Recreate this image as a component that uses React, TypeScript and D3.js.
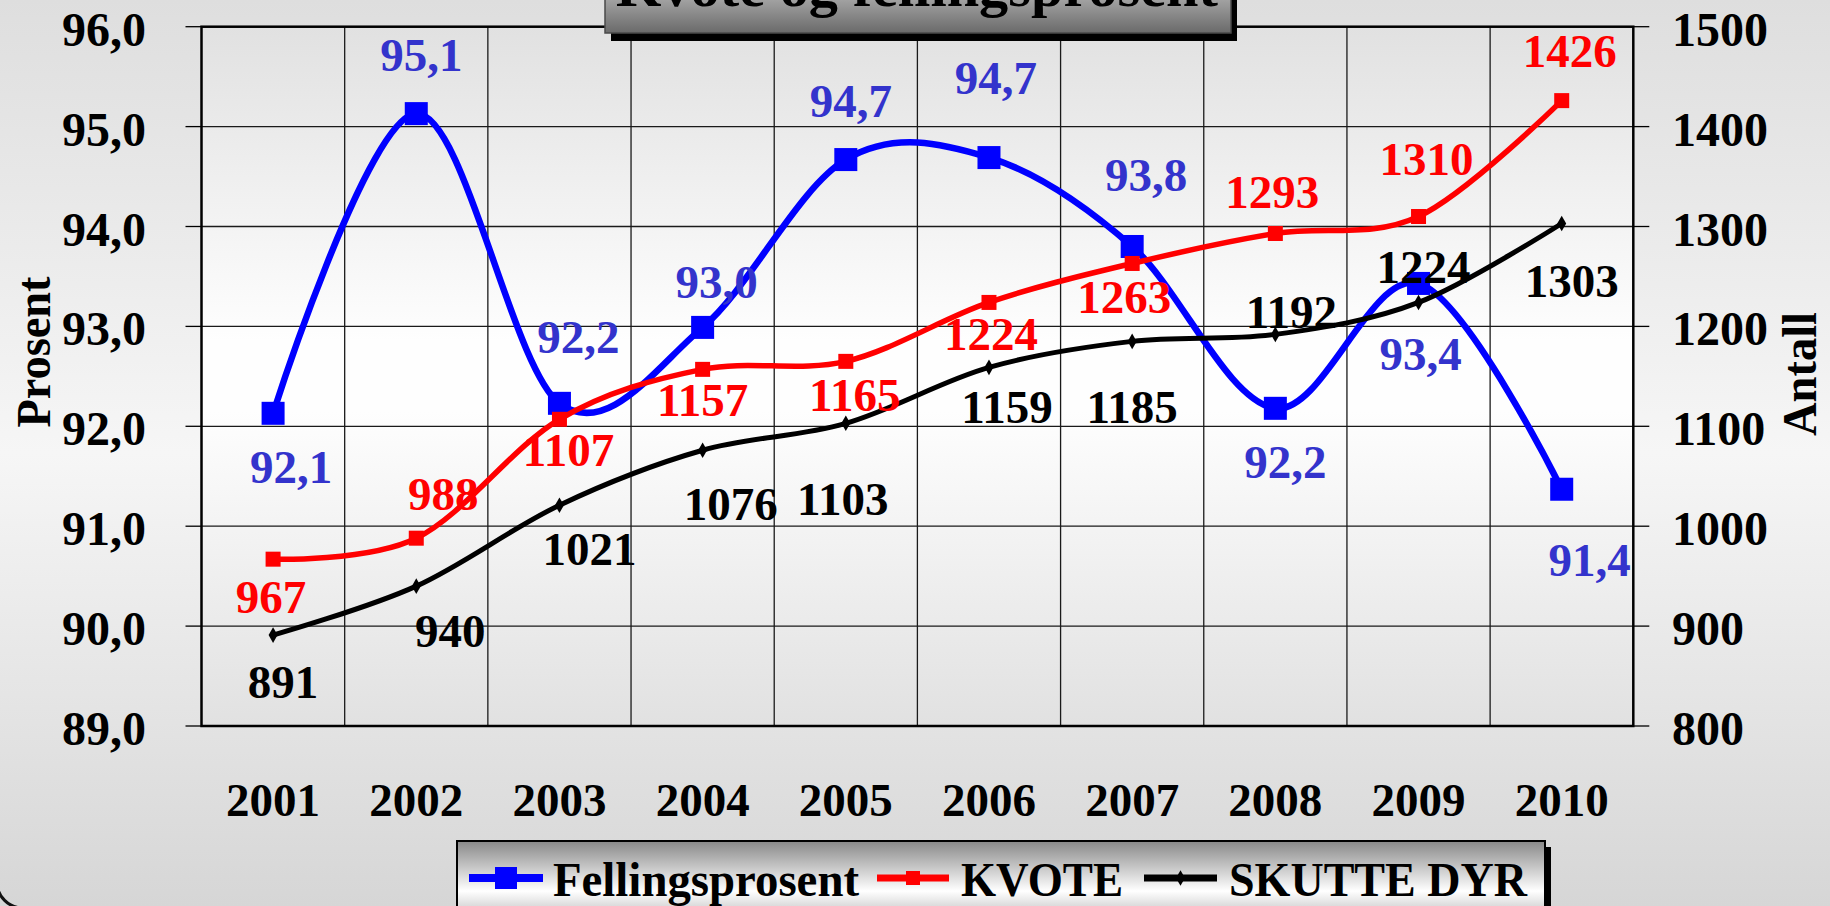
import React from "react";
import * as d3 from "d3";

// values
const years = ["2001", "2002", "2003", "2004", "2005", "2006", "2007", "2008", "2009", "2010"];
const fellingsprosent = [92.13, 95.13, 92.23, 92.99, 94.67, 94.69, 93.8, 92.18, 93.43, 91.37];
const kvote = [967, 988, 1107, 1157, 1165, 1224, 1263, 1293, 1310, 1426];
const skutteDyr = [891, 940, 1021, 1076, 1103, 1159, 1185, 1192, 1224, 1303];
const leftTicks = [89, 90, 91, 92, 93, 94, 95, 96];
const rightTicks = [800, 900, 1000, 1100, 1200, 1300, 1400, 1500];

// label nudges (dx, baseline dy) – the original labels were dragged by hand
const blueNudge = [[18, 70], [5, -43], [19, -50], [14, -29], [5, -43], [7, -64], [14, -55], [10, 70], [2, 87], [28, 87]];
const redNudge = [[-2, 54], [27, -28], [9, 47], [0, 47], [9, 50], [2, 48], [-8, 50], [-3, -25], [8, -42], [8, -34]];
const blackNudge = [[10, 63], [34, 61], [30, 60], [28, 70], [-3, 92], [18, 56], [0, 82], [16, -6], [5, -19], [10, 73]];

const W = 1830;
const H = 906;
const plot = { left: 201.5, right: 1633.3, top: 26.7, bottom: 726 };
const FONT = "'Liberation Serif', 'Times New Roman', serif";

const fmtPct = (v: number) => d3.format(".1f")(v).replace(".", ",");

export default function App() {
  const x = d3.scaleBand().domain(years).range([plot.left, plot.right]);
  const cx = (yr: string) => (x(yr) as number) + x.bandwidth() / 2;
  const yL = d3.scaleLinear().domain([89, 96]).range([plot.bottom, plot.top]);
  const yR = d3.scaleLinear().domain([800, 1500]).range([plot.bottom, plot.top]);

  const line = d3
    .line<[number, number]>()
    .x((d) => d[0])
    .y((d) => d[1])
    .curve(d3.curveCardinal.tension(0));

  const bluePts = years.map((yr, i) => [cx(yr), yL(fellingsprosent[i])] as [number, number]);
  const redPts = years.map((yr, i) => [cx(yr), yR(kvote[i])] as [number, number]);
  const blackPts = years.map((yr, i) => [cx(yr), yR(skutteDyr[i])] as [number, number]);

  const diamond = d3.symbol().type(d3.symbolDiamond).size(70)() as string;

  const gridX = years.slice(1).map((yr) => x(yr) as number);

  return (
    <div style={{ position: "absolute", left: 0, top: 0 }}>
      <svg width={W} height={H} style={{ display: "block" }} fontFamily={FONT}>
        <defs>
          <linearGradient id="bg" x1="0" y1="0" x2="0" y2="1">
            <stop offset="0" stopColor="#dedede" />
            <stop offset="0.5" stopColor="#f6f6f6" />
            <stop offset="1" stopColor="#d6d6d6" />
          </linearGradient>
          <linearGradient id="plotbg" x1="0" y1="0" x2="0" y2="1">
            <stop offset="0" stopColor="#e1e1e1" />
            <stop offset="0.45" stopColor="#fefefe" />
            <stop offset="0.55" stopColor="#fefefe" />
            <stop offset="1" stopColor="#e1e1e1" />
          </linearGradient>
          <linearGradient id="titlebg" x1="0" y1="0" x2="0" y2="1">
            <stop offset="0" stopColor="#ececec" />
            <stop offset="1" stopColor="#6a6a6a" />
          </linearGradient>
          <linearGradient id="legendbg" x1="0" y1="0" x2="0" y2="1">
            <stop offset="0" stopColor="#888888" />
            <stop offset="0.5" stopColor="#ffffff" />
            <stop offset="1" stopColor="#888888" />
          </linearGradient>
        </defs>

        <rect x={0} y={0} width={W} height={H} fill="url(#bg)" />
        <rect x={-3} y={-100} width={2000} height={1008} rx={26} fill="none" stroke="#111" strokeWidth={3} />

        {/* plot area */}
        <rect
          x={plot.left}
          y={plot.top}
          width={plot.right - plot.left}
          height={plot.bottom - plot.top}
          fill="url(#plotbg)"
        />
        {leftTicks.map((t) => (
          <line key={"h" + t} x1={plot.left} x2={plot.right} y1={yL(t)} y2={yL(t)} stroke="#1a1a1a" strokeWidth={1.3} />
        ))}
        {gridX.map((gx, i) => (
          <line key={"v" + i} x1={gx} x2={gx} y1={plot.top} y2={plot.bottom} stroke="#1a1a1a" strokeWidth={1.3} />
        ))}
        <rect
          x={plot.left}
          y={plot.top}
          width={plot.right - plot.left}
          height={plot.bottom - plot.top}
          fill="none"
          stroke="#000"
          strokeWidth={2.5}
        />

        {/* ticks and tick labels */}
        {leftTicks.map((t) => (
          <g key={"lt" + t}>
            <line x1={plot.left - 16} x2={plot.left} y1={yL(t)} y2={yL(t)} stroke="#000" strokeWidth={1.3} />
            <text x={146} y={yL(t) + 19} textAnchor="end" fontSize={48} fontWeight="bold">
              {d3.format(".1f")(t).replace(".", ",")}
            </text>
          </g>
        ))}
        {rightTicks.map((t) => (
          <g key={"rt" + t}>
            <line x1={plot.right} x2={plot.right + 16} y1={yR(t)} y2={yR(t)} stroke="#000" strokeWidth={1.3} />
            <text x={1672} y={yR(t) + 19} textAnchor="start" fontSize={48} fontWeight="bold">
              {t}
            </text>
          </g>
        ))}
        {years.map((yr) => (
          <text key={"x" + yr} x={cx(yr)} y={816} textAnchor="middle" fontSize={47} fontWeight="bold">
            {yr}
          </text>
        ))}

        <text
          transform="translate(50,352) rotate(-90)"
          textAnchor="middle"
          fontSize={48}
          fontWeight="bold"
          textLength={151}
          lengthAdjust="spacingAndGlyphs"
        >
          Prosent
        </text>
        <text
          transform="translate(1816,374) rotate(-90)"
          textAnchor="middle"
          fontSize={48}
          fontWeight="bold"
          textLength={124}
          lengthAdjust="spacingAndGlyphs"
        >
          Antall
        </text>

        {/* series */}
        <path d={line(bluePts) as string} fill="none" stroke="#0000ff" strokeWidth={6.5} strokeLinejoin="round" />
        {bluePts.map((p, i) => (
          <rect key={"bm" + i} x={p[0] - 11.5} y={p[1] - 11.5} width={23} height={23} fill="#0000ff" />
        ))}
        <path d={line(redPts) as string} fill="none" stroke="#ff0000" strokeWidth={5.5} strokeLinejoin="round" />
        {redPts.map((p, i) => (
          <rect key={"rm" + i} x={p[0] - 7.5} y={p[1] - 7.5} width={15} height={15} fill="#ff0000" />
        ))}
        <path d={line(blackPts) as string} fill="none" stroke="#000" strokeWidth={5} strokeLinejoin="round" />
        {blackPts.map((p, i) => (
          <path key={"km" + i} d={diamond} transform={`translate(${p[0]},${p[1]})`} fill="#000" />
        ))}

        {/* data labels */}
        {bluePts.map((p, i) => (
          <text
            key={"bl" + i}
            x={p[0] + blueNudge[i][0]}
            y={p[1] + blueNudge[i][1]}
            textAnchor="middle"
            fontSize={47}
            fontWeight="bold"
            fill="#3333cc"
          >
            {fmtPct(fellingsprosent[i])}
          </text>
        ))}
        {redPts.map((p, i) => (
          <text
            key={"rl" + i}
            x={p[0] + redNudge[i][0]}
            y={p[1] + redNudge[i][1]}
            textAnchor="middle"
            fontSize={47}
            fontWeight="bold"
            fill="#ff0000"
          >
            {kvote[i]}
          </text>
        ))}
        {blackPts.map((p, i) => (
          <text
            key={"kl" + i}
            x={p[0] + blackNudge[i][0]}
            y={p[1] + blackNudge[i][1]}
            textAnchor="middle"
            fontSize={47}
            fontWeight="bold"
            fill="#000"
          >
            {skutteDyr[i]}
          </text>
        ))}

        {/* title box */}
        <rect x={611} y={-37} width={626} height={78} fill="#000" />
        <rect x={605} y={-45} width={626} height={78} fill="url(#titlebg)" stroke="#4a4a4a" strokeWidth={1.5} />
        <text
          x={616}
          y={6}
          fontSize={58}
          fontWeight="bold"
          textLength={602}
          lengthAdjust="spacingAndGlyphs"
        >
          Kvote og fellingsprosent
        </text>

        {/* legend */}
        <rect x={463} y={847} width={1088} height={100} fill="#000" />
        <rect x={457} y={841} width={1088} height={100} fill="url(#legendbg)" stroke="#000" strokeWidth={2} />
        <line x1={469} x2={543} y1={878} y2={878} stroke="#0000ff" strokeWidth={8} />
        <rect x={495} y={867} width={22} height={22} fill="#0000ff" />
        <text x={553} y={896} fontSize={49} fontWeight="bold" textLength={306} lengthAdjust="spacingAndGlyphs">
          Fellingsprosent
        </text>
        <line x1={877} x2={949} y1={878} y2={878} stroke="#ff0000" strokeWidth={7} />
        <rect x={906} y={871} width={14} height={14} fill="#ff0000" />
        <text x={961} y={896} fontSize={49} fontWeight="bold" textLength={162} lengthAdjust="spacingAndGlyphs">
          KVOTE
        </text>
        <line x1={1144} x2={1217} y1={878} y2={878} stroke="#000" strokeWidth={7} />
        <path d={diamond} transform="translate(1180.5,878)" fill="#000" />
        <text x={1229} y={896} fontSize={49} fontWeight="bold" textLength={298} lengthAdjust="spacingAndGlyphs">
          SKUTTE DYR
        </text>
      </svg>
    </div>
  );
}
